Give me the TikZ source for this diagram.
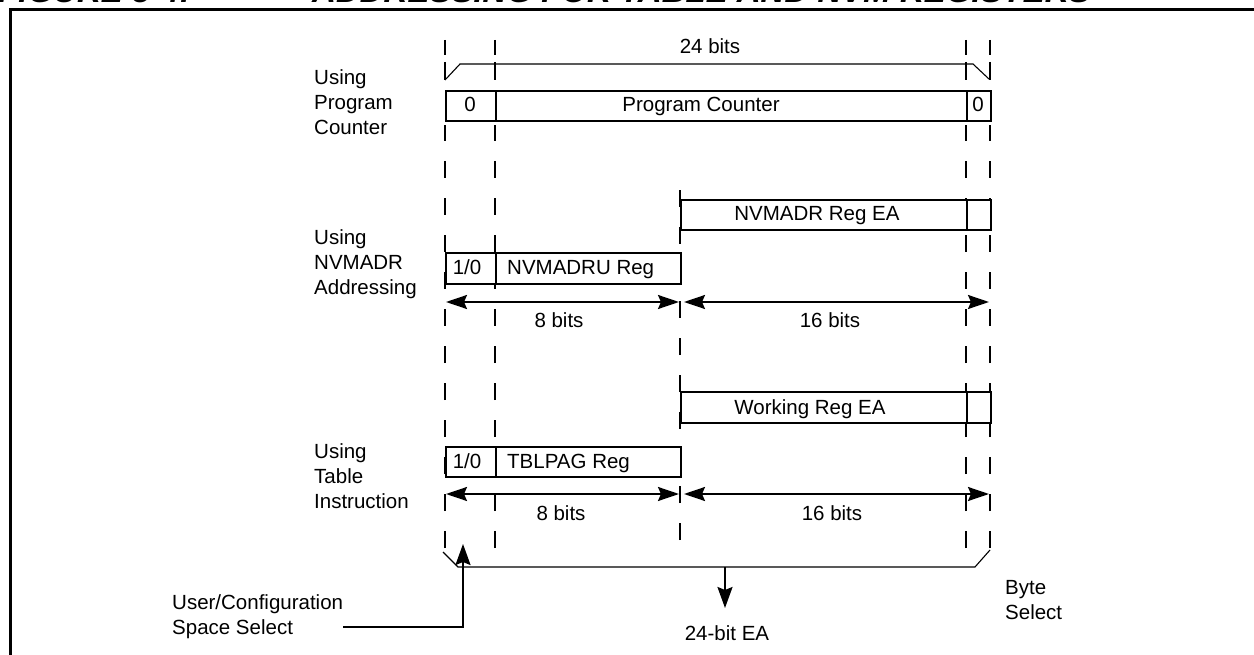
\documentclass[tikz,border=0pt]{standalone}
\usepackage{fontspec}
\setmainfont{Liberation Sans}
\usetikzlibrary{arrows.meta}
\begin{document}
\begin{tikzpicture}[x=1pt,y=-1pt,
  txt/.style={font=\fontsize{20.5}{25}\selectfont, inner sep=0pt},
  btxt/.style={txt, anchor=base},
  side/.style={txt, align=left, anchor=west},
  cell/.style={draw, line width=2pt, fill=white, inner sep=0pt, anchor=north west},
  dsh/.style={line width=2.2pt, dash pattern=on 17pt off 20pt},
  tick/.style={line width=2.2pt},
  brk/.style={line width=1.1pt},
  dim/.style={line width=2pt, {Stealth[length=21pt,width=14pt,inset=3pt]}-{Stealth[length=21pt,width=14pt,inset=3pt]}},
  arr/.style={line width=2pt, -{Stealth[length=21pt,width=15pt,inset=3pt]}},
  ttl/.style={font=\fontsize{33}{33}\selectfont\bfseries\itshape, inner sep=0pt, anchor=base west}
]
\useasboundingbox (0,0) rectangle (1254,655);

% title (cut off at top) and frame
\node[ttl] (t1) at (-2,3) {FIGURE 5-4:};
\node[ttl] (t2) at (312,3) {ADDRESSING FOR TABLE AND NVM REGISTERS};
\draw[line width=3pt] (10,660) -- (10,10) -- (1260,10);

% dashed column lines
\foreach \x in {445,495,966,990} {
  \draw[dsh] (\x,548) -- (\x,125);
  \draw[tick] (\x,40) -- (\x,55);
  \draw[tick] (\x,62) -- (\x,80);
}
\draw[dsh] (680,540) -- (680,186);

% 24 bits bracket
\node[btxt] (b24) at (710,54) {24 bits};
\draw[brk] (445,80) -- (460,64) -- (973,64) -- (989,79);

% Program counter row
\node[cell, minimum width=50pt, minimum height=30pt] (pc0) at (445,90) {};
\node[cell, minimum width=471pt, minimum height=30pt] (pc) at (495,90) {};
\node[cell, minimum width=24pt, minimum height=30pt] (pc1) at (966,90) {};
\node[btxt] (pc0t) at (470,112) {0};
\node[btxt] (pct) at (701,112) {Program Counter};
\node[btxt] (pc1t) at (978,112) {0};
\node[side] (lpc) at (314,102) {Using\\Program\\Counter};

% NVMADR row
\node[cell, minimum width=286pt, minimum height=30pt] (nea) at (680,199) {};
\node[cell, minimum width=24pt, minimum height=30pt] (neb) at (966,199) {};
\node[btxt] (neat) at (817,221) {NVMADR Reg EA};
\node[cell, minimum width=50pt, minimum height=31pt] (nu0) at (445,252) {};
\node[cell, minimum width=185pt, minimum height=31pt] (nu) at (495,252) {};
\node[btxt] (nu0t) at (467,275) {1/0};
\node[txt, anchor=base west] (nut) at (507,275) {NVMADRU Reg};
\node[side] (lnv) at (314,264) {Using\\NVMADR\\Addressing};

\coordinate (a8l) at (446,302);
\coordinate (a8r) at (679,302);
\coordinate (a16l) at (684,302);
\coordinate (a16r) at (989,302);
\draw[dim] (a8l) -- (a8r);
\draw[dim] (a16l) -- (a16r);
\node[btxt] (l8a) at (559,327) {8 bits};
\node[btxt] (l16a) at (830,327) {16 bits};

% Table row
\node[cell, minimum width=286pt, minimum height=31pt] (wea) at (680,391) {};
\node[cell, minimum width=24pt, minimum height=31pt] (web) at (966,391) {};
\node[btxt] (weat) at (810,414) {Working Reg EA};
\node[cell, minimum width=50pt, minimum height=30pt] (tb0) at (445,446) {};
\node[cell, minimum width=185pt, minimum height=30pt] (tb) at (495,446) {};
\node[btxt] (tb0t) at (467,468) {1/0};
\node[txt, anchor=base west] (tbt) at (507,468) {TBLPAG Reg};
\node[side] (ltb) at (314,476) {Using\\Table\\Instruction};

\coordinate (b8l) at (446,494);
\coordinate (b8r) at (679,494);
\coordinate (b16l) at (684,494);
\coordinate (b16r) at (989,494);
\draw[dim] (b8l) -- (b8r);
\draw[dim] (b16l) -- (b16r);
\node[btxt] (l8b) at (561,520) {8 bits};
\node[btxt] (l16b) at (832,520) {16 bits};

% bottom bracket
\draw[brk] (443,552) -- (458,567) -- (975,567) -- (990,550);
\coordinate (ea0) at (725,567);
\node[btxt] (ea) at (727,640) {24-bit EA};
\draw[arr] (ea0) -- (725,608);

\node[txt, align=left, anchor=west] (bs) at (1005,600) {Byte\\Select};

\node[txt, align=left, anchor=west] (ucs) at (172,617) {User/Configuration\\Space Select};
\coordinate (ucs0) at (343,627);
\coordinate (ucs1) at (463,544);
\draw[arr] (ucs0) -| (ucs1);
\end{tikzpicture}
\end{document}
